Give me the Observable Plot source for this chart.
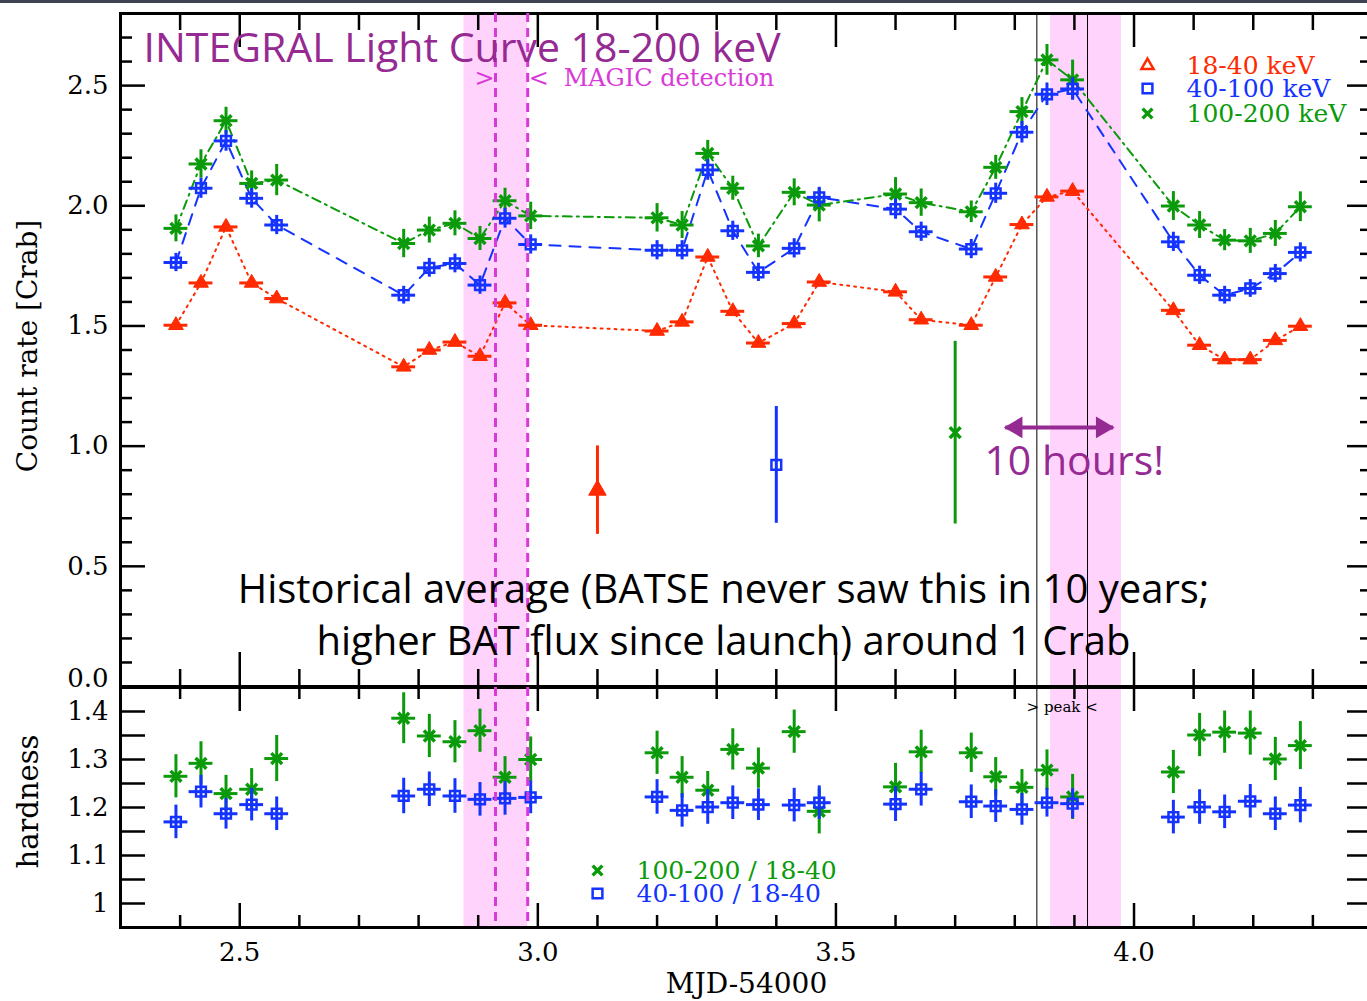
<!DOCTYPE html>
<html><head><meta charset="utf-8">
<script src="https://cdn.jsdelivr.net/npm/d3@7"></script>
<script src="https://cdn.jsdelivr.net/npm/@observablehq/plot@0.6"></script>
<style>
body{margin:0;background:#fff;}
#wrap{position:relative;width:1367px;height:1001px;overflow:hidden;background:#fff;}
#topbar{position:absolute;left:0;top:0;width:1367px;height:3px;background:#3d4350;z-index:5;}
.panel{position:absolute;left:0;}
</style></head><body><div id="wrap"><div id="topbar"></div></div>
<script>
// ---------- data ----------
const mjd = [2.393, 2.435, 2.477, 2.520, 2.562, 2.775, 2.818, 2.861, 2.903, 2.945, 2.988,
  3.200, 3.242, 3.285, 3.327, 3.370, 3.430, 3.472, 3.600, 3.643, 3.727, 3.768, 3.812, 3.854, 3.897,
  4.066, 4.110, 4.152, 4.195, 4.237, 4.279];
const rate18_40 = [1.503, 1.679, 1.912, 1.679, 1.614, 1.330, 1.400, 1.433, 1.374, 1.596, 1.503,
  1.479, 1.517, 1.787, 1.561, 1.429, 1.510, 1.683, 1.642, 1.526, 1.503, 1.704, 1.922, 2.037, 2.061,
  1.565, 1.420, 1.360, 1.360, 1.440, 1.499];
const err18_40 = [0.015, 0.016, 0.018, 0.016, 0.015, 0.014, 0.015, 0.015, 0.015, 0.017, 0.016,
  0.016, 0.016, 0.018, 0.016, 0.015, 0.016, 0.017, 0.017, 0.016, 0.016, 0.017, 0.019, 0.020, 0.020,
  0.016, 0.015, 0.014, 0.014, 0.015, 0.016];
const rate40_100 = [1.764, 2.073, 2.270, 2.031, 1.920, 1.628, 1.742, 1.760, 1.670, 1.948, 1.839,
  1.815, 1.815, 2.149, 1.896, 1.723, 1.823, 2.035, 1.986, 1.892, 1.820, 2.052, 2.306, 2.464, 2.486,
  1.850, 1.711, 1.628, 1.656, 1.718, 1.806];
const err40_100 = [0.038, 0.042, 0.043, 0.041, 0.040, 0.037, 0.039, 0.039, 0.038, 0.041, 0.040,
  0.040, 0.040, 0.043, 0.040, 0.038, 0.040, 0.042, 0.042, 0.040, 0.040, 0.042, 0.045, 0.047, 0.047,
  0.040, 0.038, 0.037, 0.037, 0.038, 0.040];
const rate100_200 = [1.906, 2.174, 2.354, 2.093, 2.107, 1.843, 1.899, 1.927, 1.864, 2.021, 1.958,
  1.950, 1.920, 2.218, 2.073, 1.833, 2.056, 2.003, 2.049, 2.013, 1.975, 2.160, 2.392, 2.607, 2.524,
  1.999, 1.920, 1.857, 1.854, 1.885, 1.996];
const err100_200 = [0.056, 0.059, 0.056, 0.052, 0.065, 0.059, 0.054, 0.052, 0.050, 0.052, 0.057,
  0.059, 0.056, 0.054, 0.050, 0.049, 0.056, 0.070, 0.068, 0.057, 0.045, 0.050, 0.058, 0.064, 0.082,
  0.060, 0.056, 0.044, 0.052, 0.054, 0.062];
const timeErr = 0.02;

const hard100_200 = [1.265, 1.292, 1.229, 1.238, 1.302, 1.386, 1.349, 1.337, 1.360, 1.263, 1.300,
  1.314, 1.263, 1.236, 1.321, 1.282, 1.358, 1.192, 1.243, 1.316, 1.314, 1.264, 1.242, 1.278, 1.222,
  1.274, 1.351, 1.357, 1.355, 1.301, 1.329];
const hardErr100_200 = [0.045, 0.045, 0.038, 0.043, 0.048, 0.053, 0.045, 0.044, 0.045, 0.043, 0.047,
  0.045, 0.043, 0.039, 0.043, 0.042, 0.045, 0.047, 0.049, 0.045, 0.041, 0.040, 0.037, 0.042, 0.047,
  0.045, 0.045, 0.044, 0.046, 0.045, 0.050];
const hard40_100 = [1.170, 1.233, 1.187, 1.206, 1.187, 1.224, 1.238, 1.224, 1.217, 1.219, 1.221,
  1.222, 1.194, 1.201, 1.210, 1.206, 1.205, 1.210, 1.207, 1.238, 1.212, 1.203, 1.196, 1.210, 1.208,
  1.180, 1.201, 1.191, 1.213, 1.187, 1.205];
const hardErr40_100 = [0.035, 0.034, 0.032, 0.034, 0.035, 0.037, 0.036, 0.036, 0.035, 0.035, 0.034,
  0.036, 0.035, 0.036, 0.035, 0.033, 0.035, 0.035, 0.036, 0.035, 0.035, 0.034, 0.033, 0.030, 0.031,
  0.035, 0.036, 0.035, 0.035, 0.035, 0.037];

// historical averages
const histBand = ["18-40 keV", "40-100 keV", "100-200 keV"];
const histX = [3.10, 3.40, 3.70];
const histRate = [0.817, 0.922, 1.056];
const histErr = [0.184, 0.243, 0.380];

// marked intervals
const magicBand = [2.876, 2.983];
const magicLines = [2.929, 2.983];
const peakBand = [3.860, 3.979];
const peakLines = [3.837, 3.922];
const arrowX = [3.784, 3.965];
const arrowY = 1.078;

// ticks
const xMajorTicks = [2.5, 3.0, 3.5, 4.0];
const xMinorTicks = [2.3, 2.4, 2.6, 2.7, 2.8, 2.9, 3.1, 3.2, 3.3, 3.4, 3.6, 3.7, 3.8, 3.9, 4.1, 4.2, 4.3, 4.4];
const rateMajorTicks = [0.0, 0.5, 1.0, 1.5, 2.0, 2.5];
const rateMinorTicks = [0.1, 0.2, 0.3, 0.4, 0.6, 0.7, 0.8, 0.9, 1.1, 1.2, 1.3, 1.4, 1.6, 1.7, 1.8, 1.9, 2.1, 2.2, 2.3, 2.4, 2.6, 2.7];
const hardTicks = [1.0, 1.05, 1.1, 1.15, 1.2, 1.25, 1.3, 1.35, 1.4];
const hardLabels = [1.0, 1.1, 1.2, 1.3, 1.4];

// ---------- styling ----------
const RED = "#ff2a00", BLUE = "#1433ff", GREEN = "#0a9a0a";
const PINK = "#ffd3fb", MAGENTA = "#d83ad8", PURPLE = "#952a93";
const SERIF = "DejaVu Serif, serif";
const COMIC = "Comic Sans MS, Open Sans, sans-serif";
const W = 1367, ML = 120, MR = -5;
const PW = W - ML - MR;          // panel width
const xDomain = [2.3, 4.4];
const C = {textAnchor: "middle", lineAnchor: "middle"};
const S = {textAnchor: "start", lineAnchor: "middle"};

const rows = (ys, es) => mjd.map((x, i) => ({x, y: ys[i], e: es[i]}));
const red = rows(rate18_40, err18_40), blue = rows(rate40_100, err40_100), green = rows(rate100_200, err100_200);
const hG = rows(hard100_200, hardErr100_200), hB = rows(hard40_100, hardErr40_100);
const hist = histX.map((x, i) => ({x, y: histRate[i], e: histErr[i], band: histBand[i]}));

function errorMarks(data, color, withX = true) {
  const m = [Plot.ruleX(data, {x: "x", y1: d => d.y - d.e, y2: d => d.y + d.e, stroke: color, strokeWidth: 3})];
  if (withX) m.push(Plot.ruleY(data, {y: "y", x1: d => d.x - timeErr, x2: d => d.x + timeErr, stroke: color, strokeWidth: 3}));
  return m;
}
const XY = {x: "x", y: "y"};
const triDot = (data, opts = {}) => Plot.dot(data, {symbol: "triangle", fill: RED, stroke: RED, strokeWidth: 1, r: 5.5, ...opts});
const sqDot = (data, opts = {}) => Plot.dot(data, {symbol: "square", fill: "none", stroke: BLUE, strokeWidth: 2.5, r: 5.5, ...opts});
const xDot = (data, opts = {}) => Plot.dot(data, {symbol: "times", stroke: GREEN, strokeWidth: 3.5, r: 5, ...opts});

// ---------- top panel ----------
const H1 = 700 - 13 - 14;
const tk = {stroke: "black", strokeWidth: 2.5};
const topPlot = Plot.plot({
  width: W, height: 700, marginLeft: ML, marginRight: MR, marginTop: 13, marginBottom: 14,
  x: {domain: xDomain, axis: null},
  y: {domain: [0, 2.8]},
  style: {fontFamily: SERIF, fontSize: "26px", background: "transparent", overflow: "visible"},
  marks: [
    Plot.rect([magicBand, peakBand], {x1: d => d[0], x2: d => d[1], fill: PINK}),
    Plot.ruleX(peakLines, {x: d => d, stroke: "black", strokeWidth: 1}),
    Plot.line(red, {x: "x", y: "y", stroke: RED, strokeWidth: 2, strokeDasharray: "2,5"}),
    Plot.line(blue, {x: "x", y: "y", stroke: BLUE, strokeWidth: 2, strokeDasharray: "11,9"}),
    Plot.line(green, {x: "x", y: "y", stroke: GREEN, strokeWidth: 2, strokeDasharray: "9,5,2,5"}),
    ...errorMarks(green, GREEN), xDot(green, XY),
    ...errorMarks(blue, BLUE), sqDot(blue, XY),
    ...errorMarks(red, RED), triDot(red, XY),
    // historical averages
    ...errorMarks([hist[0]], RED, false), triDot([hist[0]], {...XY, r: 6.5}),
    ...errorMarks([hist[1]], BLUE, false), sqDot([hist[1]], XY),
    ...errorMarks([hist[2]], GREEN, false), xDot([hist[2]], XY),
    // ticks
    Plot.ruleX(xMinorTicks, {x: d => d, insetBottom: H1 - 17, ...tk}),
    Plot.ruleX(xMajorTicks, {x: d => d, insetBottom: H1 - 34, ...tk}),
    Plot.ruleX(xMinorTicks, {x: d => d, insetTop: H1 - 17, ...tk}),
    Plot.ruleX(xMajorTicks, {x: d => d, insetTop: H1 - 34, ...tk}),
    Plot.ruleY(rateMinorTicks, {y: d => d, insetRight: PW - 12, ...tk}),
    Plot.ruleY(rateMajorTicks, {y: d => d, insetRight: PW - 25, ...tk}),
    Plot.ruleY(rateMinorTicks, {y: d => d, insetLeft: PW - 12, ...tk}),
    Plot.ruleY(rateMajorTicks, {y: d => d, insetLeft: PW - 25, ...tk}),
    Plot.frame({stroke: "black", strokeWidth: 3}),
    Plot.axisY(rateMajorTicks.filter(d => d > 0), {anchor: "left", tickSize: 0, tickPadding: 12, tickFormat: d => d.toFixed(1), label: null}),
    Plot.axisY([0], {anchor: "left", tickSize: 0, tickPadding: 12, tickFormat: d => d.toFixed(1), dy: -8, label: null}),
    Plot.text(["Count rate [Crab]"], {frameAnchor: "left", dx: -92, dy: -4, rotate: -90, fontSize: 28, ...C}),
    // magic dashed lines
    Plot.ruleX(magicLines, {x: d => d, stroke: MAGENTA, strokeWidth: 3, strokeDasharray: "9,6"}),
    // annotations
    Plot.text(["INTEGRAL Light Curve 18-200 keV"], {frameAnchor: "top-left", dx: 23, dy: 35, fill: PURPLE, fontFamily: COMIC, fontSize: 41, ...S}),
    Plot.text([">"], {x: [magicLines[0]], frameAnchor: "top", dx: -11, dy: 65, fill: MAGENTA, fontSize: 24, ...C}),
    Plot.text(["<"], {x: [magicLines[1]], frameAnchor: "top", dx: 11, dy: 65, fill: MAGENTA, fontSize: 24, ...C}),
    Plot.text(["MAGIC detection"], {x: [magicLines[1]], frameAnchor: "top", dx: 36, dy: 65, fill: MAGENTA, fontSize: 24, ...S}),
    // legend
    triDot([0], {frameAnchor: "top-right", dx: -225, dy: 52, fill: "none", strokeWidth: 2.5, r: 4.5}),
    sqDot([0], {frameAnchor: "top-right", dx: -225, dy: 75}),
    xDot([0], {frameAnchor: "top-right", dx: -225, dy: 100, r: 4.5}),
    Plot.text(["18-40 keV"], {frameAnchor: "top-right", dx: -186, dy: 52, fill: RED, fontSize: 25, ...S}),
    Plot.text(["40-100 keV"], {frameAnchor: "top-right", dx: -186, dy: 75, fill: BLUE, fontSize: 25, ...S}),
    Plot.text(["100-200 keV"], {frameAnchor: "top-right", dx: -186, dy: 100, fill: GREEN, fontSize: 25, ...S}),
    // 10 hours arrow
    Plot.link([arrowX], {x1: d => d[0], x2: d => d[1], y1: () => arrowY, y2: () => arrowY, stroke: PURPLE, strokeWidth: 4}),
    Plot.dot([arrowX[0]], {x: d => d, y: () => arrowY, symbol: "triangle", rotate: -90, r: 8, fill: PURPLE, dx: 11}),
    Plot.dot([arrowX[1]], {x: d => d, y: () => arrowY, symbol: "triangle", rotate: 90, r: 8, fill: PURPLE, dx: -11}),
    Plot.text(["10 hours!"], {x: [(arrowX[0] + arrowX[1]) / 2], y: [arrowY], dx: 15, dy: 34, fill: PURPLE, fontFamily: COMIC, fontSize: 41, ...C}),
    Plot.text(["Historical average (BATSE never saw this in 10 years;"], {frameAnchor: "top-left", dx: 603, dy: 577, fill: "black", fontFamily: COMIC, fontSize: 40, ...C}),
    Plot.text(["higher BAT flux since launch) around 1 Crab"], {frameAnchor: "top-left", dx: 603, dy: 629, fill: "black", fontFamily: COMIC, fontSize: 40, ...C})
  ]
});

// ---------- bottom panel ----------
const H2 = 401 - 87 - 74;
const bottomPlot = Plot.plot({
  width: W, height: 401, marginLeft: ML, marginRight: MR, marginTop: 87, marginBottom: 74,
  x: {domain: xDomain},
  y: {domain: [0.95, 1.45]},
  style: {fontFamily: SERIF, fontSize: "26px", background: "transparent", overflow: "visible"},
  marks: [
    Plot.rect([magicBand, peakBand], {x1: d => d[0], x2: d => d[1], fill: PINK}),
    Plot.ruleX(peakLines, {x: d => d, stroke: "black", strokeWidth: 1}),
    ...errorMarks(hG, GREEN), xDot(hG, XY),
    ...errorMarks(hB, BLUE), sqDot(hB, XY),
    Plot.ruleX(xMinorTicks, {x: d => d, insetBottom: H2 - 12, ...tk}),
    Plot.ruleX(xMajorTicks, {x: d => d, insetBottom: H2 - 24, ...tk}),
    Plot.ruleX(xMinorTicks, {x: d => d, insetTop: H2 - 12, ...tk}),
    Plot.ruleX(xMajorTicks, {x: d => d, insetTop: H2 - 24, ...tk}),
    Plot.ruleY(hardTicks, {y: d => d, insetRight: PW - 25, ...tk}),
    Plot.ruleY(hardTicks, {y: d => d, insetLeft: PW - 25, ...tk}),
    Plot.frame({stroke: "black", strokeWidth: 3}),
    Plot.ruleX(magicLines, {x: d => d, stroke: MAGENTA, strokeWidth: 3, strokeDasharray: "9,6"}),
    Plot.axisY(hardLabels, {anchor: "left", tickSize: 0, tickPadding: 12, tickFormat: d => d === 1 ? "1" : d.toFixed(1), label: null}),
    Plot.axisX(xMajorTicks, {anchor: "bottom", tickSize: 0, tickPadding: 15, tickFormat: d => d.toFixed(1), label: null}),
    Plot.text(["hardness"], {frameAnchor: "left", dx: -92, dy: -6, rotate: -90, fontSize: 29, ...C}),
    Plot.text(["MJD-54000"], {frameAnchor: "bottom", dy: 57, fontSize: 28, ...C}),
    Plot.text(["> peak <"], {x: [(peakLines[0] + peakLines[1]) / 2], frameAnchor: "top", dy: 20, fontSize: 15, ...C}),
    // legend
    xDot([0], {frameAnchor: "top-left", dx: 477, dy: 183, r: 4.5}),
    sqDot([0], {frameAnchor: "top-left", dx: 477, dy: 206}),
    Plot.text(["100-200 / 18-40"], {frameAnchor: "top-left", dx: 516, dy: 183, fill: GREEN, fontSize: 25, ...S}),
    Plot.text(["40-100 / 18-40"], {frameAnchor: "top-left", dx: 516, dy: 206, fill: BLUE, fontSize: 25, ...S})
  ]
});

const wrap = document.getElementById("wrap");
const d1 = document.createElement("div"); d1.className = "panel"; d1.style.top = "0px"; d1.appendChild(topPlot);
const d2 = document.createElement("div"); d2.className = "panel"; d2.style.top = "600px"; d2.appendChild(bottomPlot);
wrap.appendChild(d1); wrap.appendChild(d2);
</script>
</body></html>
